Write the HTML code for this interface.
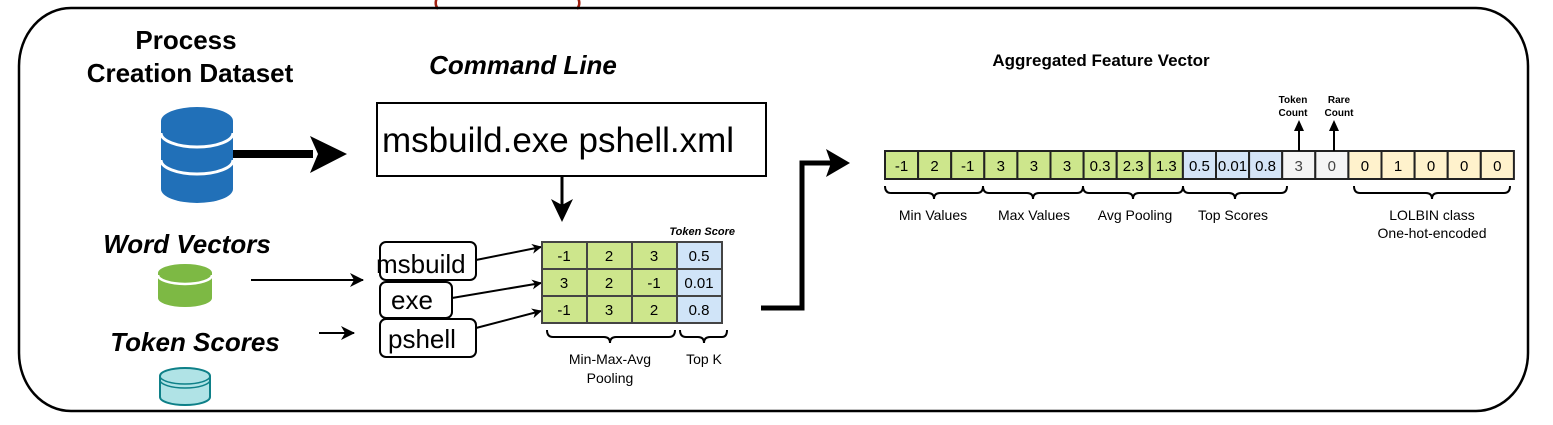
<!DOCTYPE html>
<html><head><meta charset="utf-8"><style>
html,body{margin:0;padding:0;background:#fff;}
svg{display:block;}
text{font-family:"Liberation Sans",Arial,sans-serif;}
</style></head><body>
<svg width="1553" height="425" viewBox="0 0 1553 425" xmlns="http://www.w3.org/2000/svg">
<defs>
<marker id="ah" markerWidth="10" markerHeight="10" refX="9" refY="5" orient="auto" markerUnits="userSpaceOnUse">
<path d="M0,0 L10,5 L0,10 L3,5 Z" fill="#000"/></marker>
<marker id="ah2" markerWidth="14" markerHeight="14" refX="13" refY="7" orient="auto" markerUnits="userSpaceOnUse">
<path d="M0,0 L14,7 L0,14 L4,7 Z" fill="#000"/></marker>
</defs>
<!-- red partial text -->
<path d="M437,-2 Q434,4 438,9" stroke="#a02010" stroke-width="2.5" fill="none"/>
<path d="M578,-2 Q581,4 577,9" stroke="#a02010" stroke-width="2.5" fill="none"/>
<!-- outer rounded rect -->
<rect x="19" y="8" width="1509" height="403" rx="52" ry="58" fill="none" stroke="#000" stroke-width="2.5"/>

<!-- left titles -->
<text x="186" y="49" font-size="26" font-weight="bold" text-anchor="middle">Process</text>
<text x="190" y="82" font-size="26" font-weight="bold" text-anchor="middle">Creation Dataset</text>
<text x="523" y="74" font-size="26" font-weight="bold" font-style="italic" text-anchor="middle">Command Line</text>
<text x="187" y="253" font-size="26" font-weight="bold" font-style="italic" text-anchor="middle">Word Vectors</text>
<text x="195" y="351" font-size="26" font-weight="bold" font-style="italic" text-anchor="middle">Token Scores</text>

<!-- blue cylinder -->
<g fill="#2170b8">
<path d="M161,121 A36,14 0 0 1 233,121 L233,189 A36,14 0 0 1 161,189 Z"/>
</g>
<path d="M161,133 A36,14 0 0 0 233,133" stroke="#fff" stroke-width="3" fill="none"/>
<path d="M161,160 A36,14 0 0 0 233,160" stroke="#fff" stroke-width="3" fill="none"/>
<!-- green cylinder -->
<path d="M158,273 A27,9 0 0 1 212,273 L212,298 A27,9 0 0 1 158,298 Z" fill="#7db944"/>
<path d="M158,275 A27,9 0 0 0 212,275" stroke="#fff" stroke-width="2.5" fill="none"/>
<!-- teal cylinder -->
<path d="M160,376 A25,8 0 0 1 210,376 L210,397 A25,8 0 0 1 160,397 Z" fill="#b0e3e6" stroke="#0e8088" stroke-width="2"/>
<path d="M160,376 A25,8 0 0 0 210,376" stroke="#0e8088" stroke-width="1.5" fill="none"/>
<path d="M160,380 A25,8 0 0 0 210,380" stroke="#0e8088" stroke-width="1.5" fill="none"/>

<!-- big arrow -->
<rect x="233" y="150" width="80" height="8" fill="#000"/>
<path d="M310,136 L347,154 L310,173 L318,154 Z" fill="#000"/>

<!-- command box -->
<rect x="377" y="103" width="389" height="73" fill="#fff" stroke="#000" stroke-width="2"/>
<text x="382" y="152" font-size="35">msbuild.exe pshell.xml</text>
<!-- down arrow -->
<line x1="562" y1="176" x2="562" y2="205" stroke="#000" stroke-width="3"/>
<path d="M551,199 L562,222 L573,199 L562,205 Z" fill="#000"/>

<!-- input arrows -->
<line x1="251" y1="280" x2="363" y2="280" stroke="#000" stroke-width="2" marker-end="url(#ah2)"/>
<line x1="319" y1="333" x2="354" y2="333" stroke="#000" stroke-width="2" marker-end="url(#ah2)"/>

<!-- token boxes -->
<rect x="380" y="242" width="96" height="38" rx="6" fill="#fff" stroke="#000" stroke-width="2"/>
<rect x="380" y="282" width="72" height="36" rx="6" fill="#fff" stroke="#000" stroke-width="2"/>
<rect x="380" y="319" width="96" height="38" rx="6" fill="#fff" stroke="#000" stroke-width="2"/>
<text x="376" y="273" font-size="26">msbuild</text>
<text x="391" y="309" font-size="26">exe</text>
<text x="388" y="348" font-size="26">pshell</text>

<line x1="476" y1="260" x2="541" y2="247" stroke="#000" stroke-width="2" marker-end="url(#ah)"/>
<line x1="452" y1="298" x2="541" y2="283" stroke="#000" stroke-width="2" marker-end="url(#ah)"/>
<line x1="476" y1="328" x2="541" y2="311" stroke="#000" stroke-width="2" marker-end="url(#ah)"/>

<!-- grid -->
<g stroke="#444" stroke-width="2" font-size="15">
<rect x="542" y="242" width="45" height="27" fill="#cde68c"/><rect x="587" y="242" width="45" height="27" fill="#cde68c"/><rect x="632" y="242" width="45" height="27" fill="#cde68c"/><rect x="677" y="242" width="45" height="27" fill="#d0e4f8"/>
<rect x="542" y="269" width="45" height="27" fill="#cde68c"/><rect x="587" y="269" width="45" height="27" fill="#cde68c"/><rect x="632" y="269" width="45" height="27" fill="#cde68c"/><rect x="677" y="269" width="45" height="27" fill="#d0e4f8"/>
<rect x="542" y="296" width="45" height="27" fill="#cde68c"/><rect x="587" y="296" width="45" height="27" fill="#cde68c"/><rect x="632" y="296" width="45" height="27" fill="#cde68c"/><rect x="677" y="296" width="45" height="27" fill="#d0e4f8"/>
</g>
<g font-size="15" text-anchor="middle">
<text x="564" y="261">-1</text><text x="609" y="261">2</text><text x="654" y="261">3</text><text x="699" y="261">0.5</text>
<text x="564" y="288">3</text><text x="609" y="288">2</text><text x="654" y="288">-1</text><text x="699" y="288">0.01</text>
<text x="564" y="315">-1</text><text x="609" y="315">3</text><text x="654" y="315">2</text><text x="699" y="315">0.8</text>
</g>
<text x="735" y="235" font-size="11" font-weight="bold" font-style="italic" text-anchor="end">Token Score</text>
<!-- braces -->
<g stroke="#000" stroke-width="2" fill="none">
<path d="M547,330 Q547,337 553,337 L604,337 Q610,337 610,343 Q610,337 616,337 L669,337 Q675,337 675,330"/>
<path d="M680,330 Q680,337 686,337 L698,337 Q704,337 704,343 Q704,337 710,337 L722,337 Q727,337 727,330"/>
</g>
<text x="610" y="364" font-size="14" text-anchor="middle">Min-Max-Avg</text>
<text x="610" y="383" font-size="14" text-anchor="middle">Pooling</text>
<text x="704" y="364" font-size="14" text-anchor="middle">Top K</text>

<!-- elbow arrow -->
<path d="M761,308 L802,308 L802,163 L832,163" stroke="#000" stroke-width="5" fill="none"/>
<path d="M826,149 L850,163 L826,177 L831,163 Z" fill="#000"/>

<!-- aggregated -->
<text x="1101" y="66" font-size="17" font-weight="bold" text-anchor="middle">Aggregated Feature Vector</text>
<g stroke="#222" stroke-width="2">
<rect x="885" y="151" width="33.1" height="28" fill="#cde68c"/>
<rect x="918.1" y="151" width="33.1" height="28" fill="#cde68c"/>
<rect x="951.2" y="151" width="33.1" height="28" fill="#cde68c"/>
<rect x="984.3" y="151" width="33.1" height="28" fill="#cde68c"/>
<rect x="1017.4" y="151" width="33.1" height="28" fill="#cde68c"/>
<rect x="1050.5" y="151" width="33.1" height="28" fill="#cde68c"/>
<rect x="1083.6" y="151" width="33.1" height="28" fill="#cde68c"/>
<rect x="1116.7" y="151" width="33.1" height="28" fill="#cde68c"/>
<rect x="1149.8" y="151" width="33.1" height="28" fill="#cde68c"/>
<rect x="1182.9" y="151" width="33.1" height="28" fill="#d4e4f7"/>
<rect x="1216" y="151" width="33.1" height="28" fill="#d4e4f7"/>
<rect x="1249.1" y="151" width="33.1" height="28" fill="#d4e4f7"/>
<rect x="1282.2" y="151" width="33.1" height="28" fill="#f5f5f5"/>
<rect x="1315.3" y="151" width="33.1" height="28" fill="#f5f5f5"/>
<rect x="1348.4" y="151" width="33.1" height="28" fill="#fff2cc"/>
<rect x="1381.5" y="151" width="33.1" height="28" fill="#fff2cc"/>
<rect x="1414.6" y="151" width="33.1" height="28" fill="#fff2cc"/>
<rect x="1447.7" y="151" width="33.1" height="28" fill="#fff2cc"/>
<rect x="1480.8" y="151" width="33.1" height="28" fill="#fff2cc"/>
</g>
<g font-size="15" text-anchor="middle">
<text x="901.5" y="171">-1</text><text x="934.6" y="171">2</text><text x="967.7" y="171">-1</text>
<text x="1000.8" y="171">3</text><text x="1033.9" y="171">3</text><text x="1067" y="171">3</text>
<text x="1100.1" y="171">0.3</text><text x="1133.2" y="171">2.3</text><text x="1166.3" y="171">1.3</text>
<text x="1199.4" y="171">0.5</text><text x="1232.5" y="171">0.01</text><text x="1265.6" y="171">0.8</text>
<text x="1298.7" y="171" fill="#444">3</text><text x="1331.8" y="171" fill="#444">0</text>
<text x="1364.9" y="171">0</text><text x="1398" y="171">1</text><text x="1431.1" y="171">0</text><text x="1464.2" y="171">0</text><text x="1497.3" y="171">0</text>
</g>
<!-- up arrows -->
<line x1="1299" y1="151" x2="1299" y2="124" stroke="#000" stroke-width="2"/>
<path d="M1294,131 L1299,120 L1304,131 Z" fill="#000"/>
<line x1="1334" y1="151" x2="1334" y2="124" stroke="#000" stroke-width="2"/>
<path d="M1329,131 L1334,120 L1339,131 Z" fill="#000"/>
<g font-size="10" font-weight="bold" text-anchor="middle">
<text x="1293" y="103">Token</text><text x="1293" y="116">Count</text>
<text x="1339" y="103">Rare</text><text x="1339" y="116">Count</text>
</g>
<!-- braces right -->
<g stroke="#000" stroke-width="2" fill="none">
<path d="M885,186 Q885,193 891,193 L928,193 Q934,193 934,199 Q934,193 940,193 L977,193 Q983,193 983,186"/>
<path d="M983,186 Q983,193 989,193 L1027,193 Q1033,193 1033,199 Q1033,193 1039,193 L1077,193 Q1083,193 1083,186"/>
<path d="M1083,186 Q1083,193 1089,193 L1127,193 Q1133,193 1133,199 Q1133,193 1139,193 L1177,193 Q1183,193 1183,186"/>
<path d="M1183,186 Q1183,193 1189,193 L1229,193 Q1235,193 1235,199 Q1235,193 1241,193 L1281,193 Q1287,193 1287,186"/>
<path d="M1354,186 Q1354,193 1360,193 L1426,193 Q1432,193 1432,199 Q1432,193 1438,193 L1504,193 Q1510,193 1510,186"/>
</g>
<g font-size="14" text-anchor="middle">
<text x="933" y="220">Min Values</text>
<text x="1034" y="220">Max Values</text>
<text x="1135" y="220">Avg Pooling</text>
<text x="1233" y="220">Top Scores</text>
<text x="1432" y="220">LOLBIN class</text>
<text x="1432" y="238">One-hot-encoded</text>
</g>
</svg>
</body></html>
